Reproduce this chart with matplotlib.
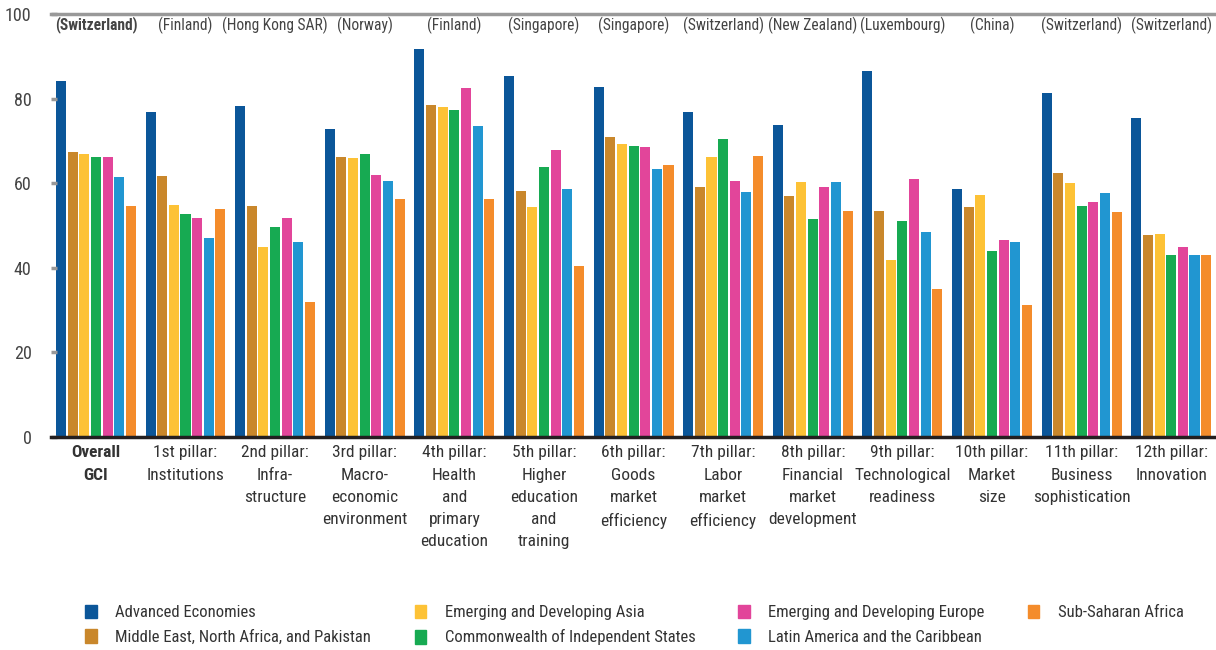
import numpy as np
import matplotlib
matplotlib.use('Agg')
import matplotlib.pyplot as plt
from matplotlib.patches import Patch

plt.rcParams['font.family'] = ['Roboto Condensed', 'DejaVu Sans']

categories = ['Overall\nGCI', '1st pillar:\nInstitutions', '2nd pillar:\nInfra-\nstructure',
              '3rd pillar:\nMacro-\neconomic\nenvironment', '4th pillar:\nHealth\nand\nprimary\neducation',
              '5th pillar:\nHigher\neducation\nand\ntraining', '6th pillar:\nGoods\nmarket\nefficiency',
              '7th pillar:\nLabor\nmarket\nefficiency', '8th pillar:\nFinancial\nmarket\ndevelopment',
              '9th pillar:\nTechnological\nreadiness', '10th pillar:\nMarket\nsize',
              '11th pillar:\nBusiness\nsophistication', '12th pillar:\nInnovation']
leaders = ['(Switzerland)', '(Finland)', '(Hong Kong SAR)', '(Norway)', '(Finland)', '(Singapore)',
           '(Singapore)', '(Switzerland)', '(New Zealand)', '(Luxembourg)', '(China)',
           '(Switzerland)', '(Switzerland)']

regions = ['Advanced Economies', 'Middle East, North Africa, and Pakistan',
           'Emerging and Developing Asia', 'Commonwealth of Independent States',
           'Emerging and Developing Europe', 'Latin America and the Caribbean',
           'Sub-Saharan Africa']

advanced = [84.2, 76.8, 78.3, 72.8, 91.7, 85.3, 82.7, 76.8, 73.8, 86.5, 58.6, 81.3, 75.4]
menap = [67.4, 61.7, 54.6, 66.2, 78.5, 58.2, 70.9, 59.1, 57.0, 53.4, 54.4, 62.4, 47.8]
asia = [66.9, 54.8, 44.9, 66.0, 78.0, 54.4, 69.3, 66.2, 60.3, 41.8, 57.2, 60.0, 48.0]
cis = [66.2, 52.7, 49.6, 66.9, 77.3, 63.8, 68.8, 70.4, 51.5, 51.1, 44.0, 54.6, 43.0]
europe = [66.2, 51.8, 51.8, 61.9, 82.5, 67.8, 68.6, 60.5, 59.1, 61.0, 46.6, 55.6, 44.9]
latam = [61.5, 47.0, 46.1, 60.5, 73.5, 58.6, 63.4, 57.9, 60.3, 48.5, 46.1, 57.7, 43.0]
ssa = [54.6, 53.9, 31.9, 56.3, 56.3, 40.4, 64.3, 66.4, 53.4, 35.0, 31.2, 53.2, 43.0]

series = [advanced, menap, asia, cis, europe, latam, ssa]
colors = ['#0B5699', '#C9872B', '#FDC236', '#17AA52', '#E2459A', '#2196D1', '#F48C2B']

fig = plt.figure(figsize=(12.16, 6.5), dpi=100)
ax = fig.add_axes([0.042, 0.3277, 0.958, 0.6508])

x = np.arange(len(categories))
step = 0.13
for j, vals in enumerate(series):
    ax.bar(x + (j - 3) * step, vals, width=0.112, color=colors[j], label=regions[j])

ax.set_xlim(-0.5, len(categories) - 0.5)
ax.set_ylim(0, 100)
ax.set_yticks(range(0, 101, 20))
ax.tick_params(axis='y', direction='in', length=4, width=2.5, color='#999999',
               labelsize=13, labelcolor='#444444', pad=14)
ax.set_xticks(x)
ax.set_xticklabels(categories, fontsize=12.5, color='#333333', linespacing=1.6)
ax.get_xticklabels()[0].set_fontweight('bold')
ax.tick_params(axis='x', length=0, pad=6)

for s in ['left', 'right']:
    ax.spines[s].set_visible(False)
ax.spines['bottom'].set_linewidth(2.5)
ax.spines['bottom'].set_color('#231F20')
ax.spines['top'].set_linewidth(2.5)
ax.spines['top'].set_color('#999999')

for i, name in enumerate(leaders):
    ax.text(i, 97.4, name, ha='center', va='center', fontsize=11.2, color='#444444',
            fontweight='bold' if i == 0 else 'normal')

# legend, one column at a time
col_x = [0.070, 0.341, 0.607, 0.845]
cols = [[0, 1], [2, 3], [4, 5], [6]]
for cx, idx in zip(col_x, cols):
    handles = [Patch(color=colors[k], label=regions[k]) for k in idx]
    fig.legend(handles=handles, loc='upper left', bbox_to_anchor=(cx, 0.070),
               frameon=False, fontsize=12, handlelength=0.7, handleheight=0.9,
               handletextpad=1.1, labelspacing=0.55, borderpad=0, borderaxespad=0)
for leg in fig.legends:
    for t in leg.get_texts():
        t.set_color('#333333')

fig.savefig('out.png', dpi=100)
